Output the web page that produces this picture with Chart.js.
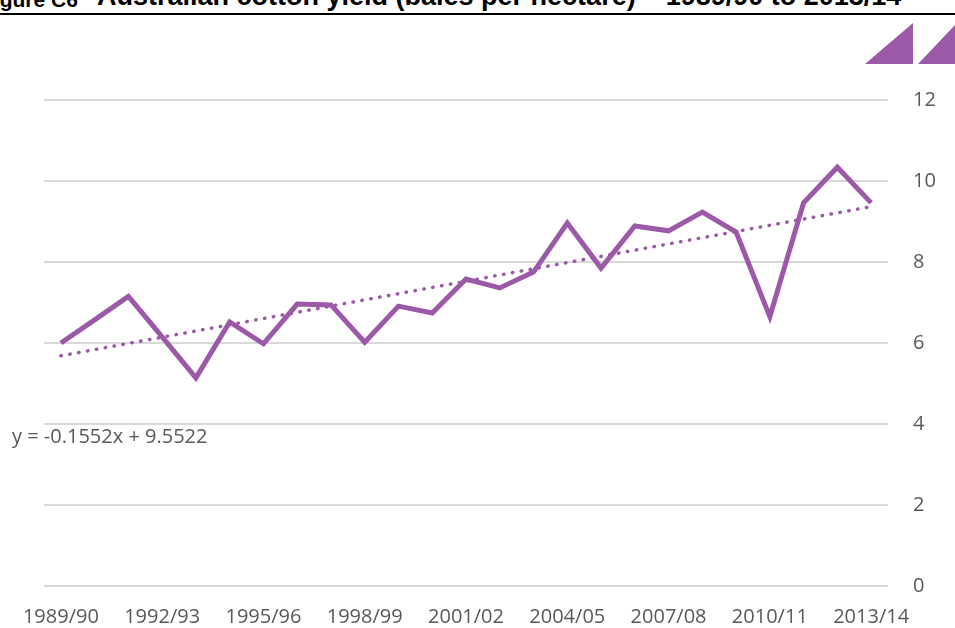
<!DOCTYPE html>
<html>
<head>
<meta charset="utf-8">
<script src="https://cdn.jsdelivr.net/npm/chart.js@4/dist/chart.umd.min.js"></script>
<style>
  html, body { margin: 0; padding: 0; background: #fff; }
  body { width: 955px; height: 628px; position: relative; overflow: hidden; }
  .title { position: absolute; white-space: nowrap; font-family: "Liberation Sans", Arial, sans-serif; font-weight: bold; color: #000; }
  .rule { position: absolute; left: 0; top: 13px; width: 955px; height: 2px; background: #000; }
  #eq { position: absolute; left: 12px; top: 424px; font: 20px/24px "Open Sans", sans-serif; color: #595959; white-space: nowrap; }
  #wrap { position: absolute; left: 0; top: 0; width: 955px; height: 628px; }
  svg { position: absolute; left: 0; top: 0; }
</style>
</head>
<body>
<div class="title" style="left:-19px; top:-11px; font-size:21px; line-height:21px">Figure C6</div>
<div class="title" style="left:97px; top:-17px; font-size:27px; line-height:27px">Australian cotton yield (bales per hectare) – 1989/90 to 2013/14</div>
<div class="rule"></div>
<svg width="955" height="70">
  <polygon points="865,64 913,23 913,64" fill="#9c59a8"/>
  <polygon points="918,64 957,23 957,64" fill="#9c59a8"/>
</svg>
<div id="wrap"><canvas id="chart" width="955" height="628"></canvas></div>
<div id="eq">y = -0.1552x + 9.5522</div>
<script>
let seasons = ["1989/90","1990/91","1991/92","1992/93","1993/94","1994/95","1995/96",
               "1996/97","1997/98","1998/99","1999/00","2000/01","2001/02","2002/03",
               "2003/04","2004/05","2005/06","2006/07","2007/08","2008/09","2009/10",
               "2010/11","2011/12","2012/13","2013/14"];

let yieldBales = [6.0, 6.57, 7.15, 6.15, 5.14, 6.52, 5.98, 6.96, 6.94, 6.02, 6.91, 6.74, 7.58,
                  7.36, 7.75, 8.96, 7.85, 8.89, 8.77, 9.23, 8.74, 6.65, 9.46, 10.34, 9.46];

let yTicks = [0, 2, 4, 6, 8, 10, 12];

// least squares trend over the season index
let n = yieldBales.length;
let mx = (n - 1) / 2;
let my = yieldBales.reduce((a,b)=>a+b,0) / n;
let sxy = 0, sxx = 0;
yieldBales.forEach((v,i) => { sxy += (i-mx)*(v-my); sxx += (i-mx)*(i-mx); });
let slope = sxy / sxx;
let trend = yieldBales.map((v,i) => my + slope*(i-mx));

let purple = "#9c59a8";
let grey = "#595959";

new Chart(document.getElementById("chart"), {
    type: "line",
    data: {
        labels: seasons,
        datasets: [{
            label: "Yield",
            data: yieldBales,
            borderColor: purple,
            borderWidth: 5,
            pointRadius: 0,
            tension: 0,
            fill: false,
            order: 1
        }, {
            label: "Trend",
            data: trend,
            borderColor: purple,
            borderWidth: 3.5,
            borderDash: [0.5, 8.5],
            borderCapStyle: "round",
            pointRadius: 0,
            tension: 0,
            fill: false,
            order: 2
        }]
    },
    options: {
        responsive: false,
        animation: false,
        maintainAspectRatio: false,
        layout: { padding: { top: 100, left: 44, right: 0, bottom: 0 } },
        plugins: { legend: { display: false }, tooltip: { enabled: false } },
        scales: {
            x: {
                offset: true,
                afterFit: function(scale) { scale.height = 42; },
                grid: { display: false, drawTicks: false },
                border: { display: false },
                ticks: {
                    autoSkip: false,
                    maxRotation: 0,
                    padding: 19,
                    color: grey,
                    font: { family: "Open Sans", size: 20 },
                    callback: function(val, i) { return i % 3 === 0 ? seasons[i] : ""; }
                }
            },
            y: {
                position: "right",
                min: 0,
                max: 12,
                afterBuildTicks: function(scale) { scale.ticks = yTicks.map(v => ({ value: v })); },
                afterFit: function(scale) { scale.width = 67; },
                grid: { color: "#d9d9d9", lineWidth: 2, drawTicks: false },
                border: { display: false },
                ticks: {
                    padding: 25,
                    color: grey,
                    font: { family: "Open Sans", size: 20 }
                }
            }
        }
    }
});
</script>
</body>
</html>
